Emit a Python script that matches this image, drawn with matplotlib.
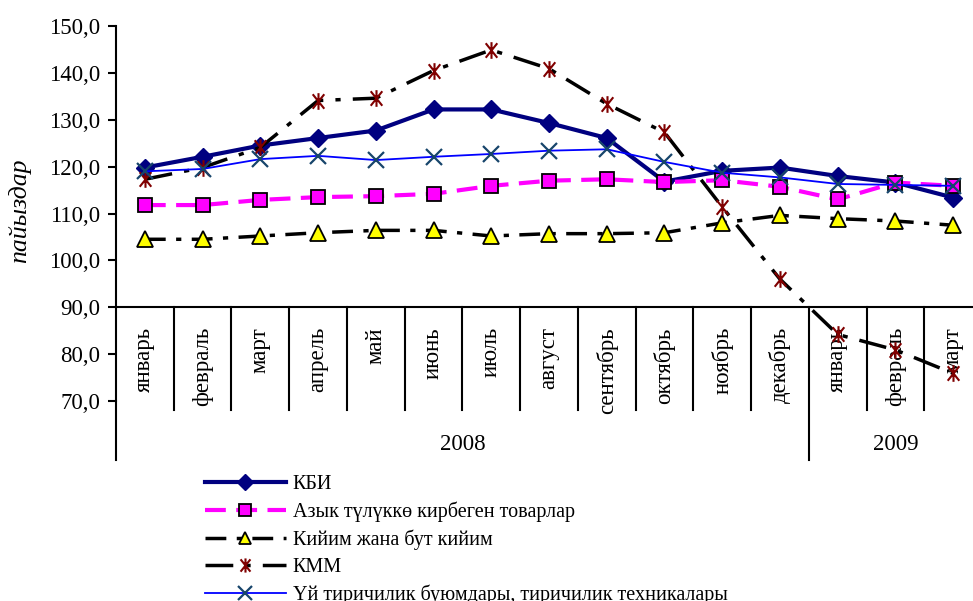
import matplotlib
matplotlib.use('Agg')
import matplotlib.pyplot as plt
import matplotlib.transforms as mtransforms
from matplotlib.path import Path

# DATA

months = ['январь', 'февраль', 'март', 'апрель', 'май', 'июнь', 'июль', 'август',
          'сентябрь', 'октябрь', 'ноябрь', 'декабрь', 'январь', 'февраль', 'март']
years = ['2008', '2009']
year_first = [0, 12]   # first month index of each year
year_last = [11, 14]   # last month index of each year

kbi = [119.8, 122.1, 124.5, 126.1, 127.7, 132.2, 132.2, 129.3, 126.1, 116.8, 119.1, 119.8, 118.0, 116.6, 113.4]
azyk = [111.8, 111.8, 112.9, 113.5, 113.7, 114.2, 115.9, 117.0, 117.3, 116.7, 117.1, 115.7, 113.0, 116.6, 115.9]
kiyim = [104.5, 104.5, 105.2, 105.9, 106.4, 106.4, 105.2, 105.7, 105.7, 105.9, 108.0, 109.6, 108.9, 108.4, 107.5]
kmm = [117.3, 119.8, 124.1, 134.1, 134.6, 140.5, 144.9, 140.9, 133.4, 127.3, 111.4, 96.0, 84.2, 80.9, 75.9]
uy = [119.0, 119.5, 121.6, 122.3, 121.4, 122.1, 122.7, 123.4, 123.7, 121.0, 118.7, 117.7, 116.3, 116.1, 115.9]

labels = ['КБИ', 'Азык түлүккө кирбеген товарлар', 'Кийим жана бут кийим', 'КММ',
          'Үй тиричилик буюмдары, тиричилик техникалары']

yticks = [70, 80, 90, 100, 110, 120, 130, 140, 150]

plt.rcParams['font.family'] = ['Liberation Serif', 'DejaVu Serif']
fs = 16.5

# star marker like the Excel one (X plus vertical bar)
star = Path([(-0.8, -1), (0.8, 1), (-0.8, 1), (0.8, -1), (0, -1.15), (0, 1.15)],
            [Path.MOVETO, Path.LINETO] * 3)

fig = plt.figure(figsize=(9.73, 6.01), dpi=100)
ax = fig.add_axes([116 / 973, 200 / 601, 866 / 973, 375 / 601])

x = list(range(len(months)))

ax.plot(x, kbi, color='#000080', lw=3, marker='D', ms=9, mfc='#000080', mec='#000080',
        label=labels[0], zorder=3)
ax.plot(x, azyk, color='#FF00FF', lw=3, dashes=(5, 2.5), marker='s', ms=10, mfc='#FF00FF',
        mec='black', mew=1.3, label=labels[1], zorder=3)
ax.plot(x, kiyim, color='black', lw=2.5, dashes=(6, 3, 1.5, 3), marker='^', ms=11,
        mfc='#FFFF00', mec='black', mew=1.3, label=labels[2], zorder=3)
ax.plot(x, kmm, color='black', lw=2.5, dashes=(8, 3.5, 1.5, 3.5), marker=star, ms=12,
        mfc='none', mec='#800000', mew=1.5, label=labels[3], zorder=3)
ax.plot(x, uy, color='#0000FF', lw=1.3, marker='x', ms=12, mec='#17456B', mew=1.6,
        label=labels[4], zorder=3)

ax.set_xlim(-0.5, len(months) - 0.5)
ax.set_ylim(70, 150)
ax.set_yticks(yticks)
ax.set_yticklabels([f'{v:.1f}'.replace('.', ',') for v in yticks], fontsize=fs)
ax.set_xticks([])
ax.tick_params(axis='y', direction='out', length=5.5, width=1.5, pad=6)

for s in ['top', 'right']:
    ax.spines[s].set_visible(False)
ax.spines['bottom'].set_position(('data', 90))
ax.spines['bottom'].set_linewidth(1.5)
ax.spines['left'].set_linewidth(1.5)

# category table under the axis at 90
trans = mtransforms.blended_transform_factory(ax.transData, ax.transAxes)
ax.plot([-0.5, -0.5], [0, -0.157], transform=trans, color='black', lw=1.5, clip_on=False)
for i in range(len(months) - 1):
    bottom = -0.157 if i + 1 in year_first else -0.024
    ax.plot([i + 0.5, i + 0.5], [0.25, bottom], transform=trans, color='black', lw=1.5,
            clip_on=False, zorder=1)
for i, m in enumerate(months):
    ax.text(i, 0.197, m, rotation=90, ha='center', va='top', fontsize=fs,
            transform=trans, zorder=1)
for yr, a, b in zip(years, year_first, year_last):
    ax.text((a + b) / 2, -0.115, yr, ha='center', va='center', fontsize=fs, transform=trans)

fig.text(20 / 973, 1 - 211 / 601, 'пайыздар', rotation=90, ha='center', va='center',
         fontsize=18.5, style='italic')

ax.legend(loc='upper left', bbox_to_anchor=(205 / 973, 1 - 475 / 601),
          bbox_transform=fig.transFigure, frameon=False, fontsize=14.5, borderpad=0,
          borderaxespad=0, handlelength=4.0, handletextpad=0.35, labelspacing=0.38,
          markerscale=0.85)

fig.savefig('out.png', dpi=100)
